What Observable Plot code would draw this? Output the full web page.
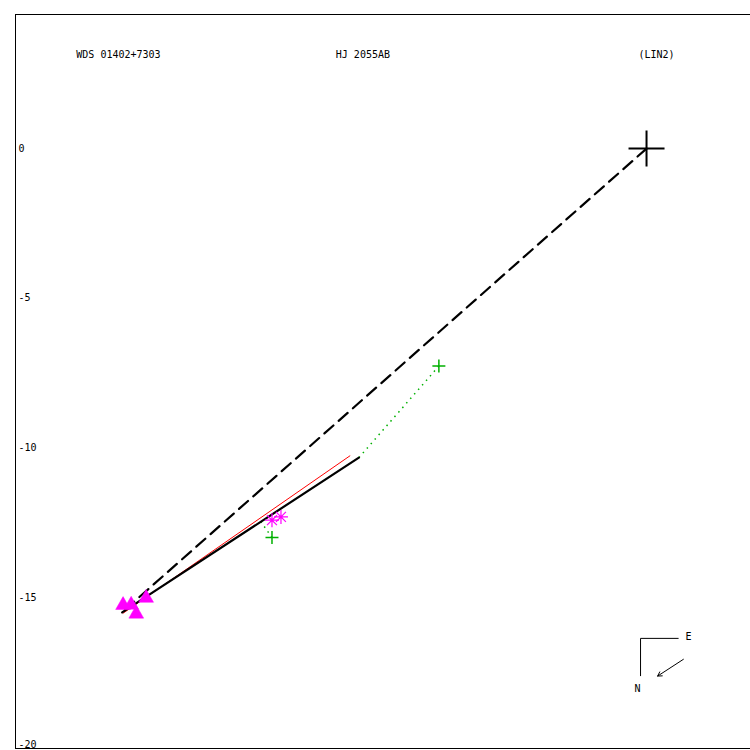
<!DOCTYPE html>
<html>
<head>
<meta charset="utf-8">
<script src="https://cdn.jsdelivr.net/npm/d3@7"></script>
<script src="https://cdn.jsdelivr.net/npm/@observablehq/plot@0.6"></script>
<style>
  html, body { margin: 0; padding: 0; background: #fff; }
  svg { display: block; }
</style>
</head>
<body>
<div id="chart"></div>
<script>
// ---- data (arcsec offsets) ----
const yTicks = [0, -5, -10, -15, -20];
const titles = [
  { x: -19.03, y: 3.13, text: "WDS 01402+7303" },
  { x: -10.37, y: 3.13, text: "HJ 2055AB" },
  { x: -0.27, y: 3.13, text: "(LIN2)" }
];
const primary = [{ x: 0, y: 0 }];
const dashedLine = [{ x: 0, y: 0 }, { x: -17.47, y: -15.47 }];
const fitLine = [{ x: -9.6, y: -10.33 }, { x: -17.5, y: -15.5 }];
const redLine = [{ x: -9.9, y: -10.27 }, { x: -17.47, y: -15.53 }];
const greenObs = [{ x: -6.93, y: -7.27 }, { x: -12.5, y: -13.0 }];
const greenResid = [
  { x1: -6.93, y1: -7.27, x2: -9.6, y2: -10.33 },
  { x1: -12.5, y1: -13.0, x2: -12.87, y2: -12.47 }
];
const asterisks = [{ x: -12.5, y: -12.42 }, { x: -12.2, y: -12.31 }];
const triangles = [
  { x: -17.47, y: -15.26 },
  { x: -17.2, y: -15.25 },
  { x: -17.03, y: -15.55 },
  { x: -16.7, y: -15.02 }
];
const compassLines = [
  { x1: -0.2, y1: -16.37, x2: 1.07, y2: -16.37 },
  { x1: -0.2, y1: -16.37, x2: -0.2, y2: -17.63 }
];
const compassArrow = [{ x1: 1.23, y1: -17.07, x2: 0.37, y2: -17.63 }];
const compassLabels = [
  { x: 1.4, y: -16.33, text: "E" },
  { x: -0.3, y: -18.07, text: "N" }
];
const xDomain = [-21.06, 3.47];
const yDomain = [-20.05, 4.48];

// thin-line symbols
const plusSym = { draw(ctx, size) { const r = Math.sqrt(size / Math.PI); ctx.moveTo(-r, 0); ctx.lineTo(r, 0); ctx.moveTo(0, -r); ctx.lineTo(0, r); } };
const starSym = { draw(ctx, size) { const r = Math.sqrt(size / Math.PI); const d = r * Math.SQRT1_2;
  ctx.moveTo(-r, 0); ctx.lineTo(r, 0); ctx.moveTo(0, -r); ctx.lineTo(0, r);
  ctx.moveTo(-d, -d); ctx.lineTo(d, d); ctx.moveTo(-d, d); ctx.lineTo(d, -d); } };

const font = "DejaVu Sans Mono";
const lowest = d3.min(yTicks);

const plot = Plot.plot({
  width: 750,
  height: 750,
  marginLeft: 15,
  marginRight: 0,
  marginTop: 14,
  marginBottom: 2,
  style: { fontFamily: font, fontSize: "10px", background: "#fff" },
  x: { domain: xDomain, axis: null },
  y: { domain: yDomain, axis: null },
  marks: [
    Plot.ruleX([xDomain[0]], { stroke: "black", strokeWidth: 1 }),
    Plot.ruleY([yDomain[1]], { stroke: "black", strokeWidth: 1 }),
    Plot.ruleY([yDomain[0]], { stroke: "black", strokeWidth: 1 }),
    Plot.text(yTicks.filter(d => d !== lowest), { y: d => d, text: d => String(d), frameAnchor: "left", textAnchor: "start", dx: 3, fill: "black", fontFamily: font, fontSize: 10 }),
    Plot.text([lowest], { y: d => d, text: d => String(d), frameAnchor: "left", textAnchor: "start", lineAnchor: "bottom", dx: 3, dy: 1, fill: "black", fontFamily: font, fontSize: 10 }),
    Plot.text(titles, { x: "x", y: "y", text: "text", textAnchor: "start", fill: "black", fontFamily: font, fontSize: 10 }),
    Plot.link(greenResid, { x1: "x1", y1: "y1", x2: "x2", y2: "y2", stroke: "#00b000", strokeWidth: 1.5, strokeDasharray: "1.5,4.5" }),
    Plot.line(dashedLine, { x: "x", y: "y", stroke: "black", strokeWidth: 2.2, strokeDasharray: "12,7" }),
    Plot.line(redLine, { x: "x", y: "y", stroke: "red", strokeWidth: 1 }),
    Plot.line(fitLine, { x: "x", y: "y", stroke: "black", strokeWidth: 2.2 }),
    Plot.dot(primary, { x: "x", y: "y", symbol: plusSym, r: 18, stroke: "black", strokeWidth: 2, fill: "none" }),
    Plot.dot(greenObs, { x: "x", y: "y", symbol: plusSym, r: 6.5, stroke: "#00b000", strokeWidth: 1.5, fill: "none" }),
    Plot.dot(asterisks, { x: "x", y: "y", symbol: starSym, r: 7, stroke: "magenta", strokeWidth: 1.2, fill: "none" }),
    Plot.dot(triangles, { x: "x", y: "y", symbol: "triangle", r: 5.5, fill: "magenta", stroke: "magenta", strokeWidth: 0.5 }),
    Plot.link(compassLines, { x1: "x1", y1: "y1", x2: "x2", y2: "y2", stroke: "black", strokeWidth: 1 }),
    Plot.arrow(compassArrow, { x1: "x1", y1: "y1", x2: "x2", y2: "y2", stroke: "black", strokeWidth: 1, headLength: 7 }),
    Plot.text(compassLabels, { x: "x", y: "y", text: "text", fill: "black", fontFamily: font, fontSize: 10 })
  ]
});
document.getElementById("chart").appendChild(plot);
</script>
</body>
</html>
